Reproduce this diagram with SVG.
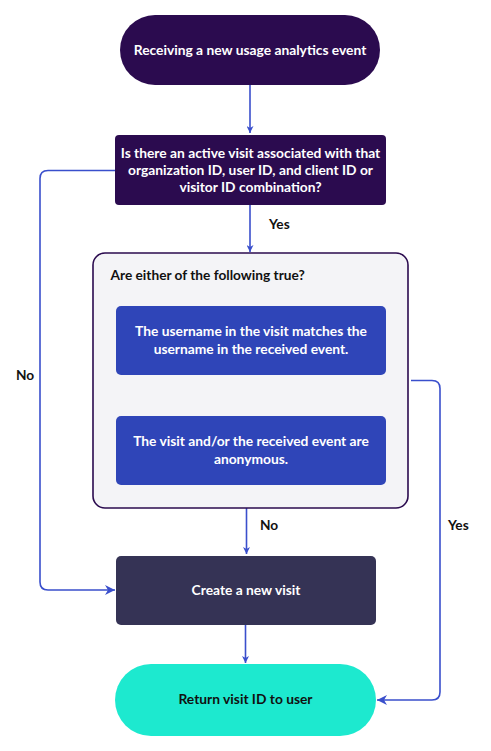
<svg xmlns="http://www.w3.org/2000/svg" width="491" height="751" viewBox="0 0 491 751">
<defs>
<style>
.t{font-family:Lato,"Open Sans","Liberation Sans",sans-serif;font-weight:700;font-size:13.8px;text-anchor:middle}
.w{fill:#ffffff}
.d{fill:#111111}
.lbl{font-family:Lato,"Open Sans","Liberation Sans",sans-serif;font-weight:700;font-size:13.7px;fill:#111111}
.c{fill:none;stroke:#3a4fcc;stroke-width:1.6}
</style>
<marker id="ah" viewBox="0 0 10 10" refX="10" refY="5" markerWidth="7" markerHeight="7" markerUnits="userSpaceOnUse" orient="auto">
<path d="M0,0 L10,5 L0,10 L3,5 Z" fill="#3a4fcc"/>
</marker>
<marker id="ah2" viewBox="0 0 10 10" refX="10" refY="5" markerWidth="10" markerHeight="10" markerUnits="userSpaceOnUse" orient="auto">
<path d="M0,0 L10,5 L0,10 L3,5 Z" fill="#3a4fcc"/>
</marker>
</defs>
<rect width="491" height="751" fill="#ffffff"/>
<g id="connectors">
<path class="c" d="M250,85 V133" marker-end="url(#ah)"/>
<path class="c" d="M250,205 V252" marker-end="url(#ah)"/>
<path class="c" d="M115,170.5 H48 Q40,170.5 40,178.5 V582 Q40,590 48,590 H115" marker-end="url(#ah2)"/>
<path class="c" d="M246.5,508 V554" marker-end="url(#ah)"/>
<path class="c" d="M245.5,625 V663" marker-end="url(#ah)"/>
<path class="c" d="M411,380.5 H432 Q440,380.5 440,388.5 V692 Q440,700 432,700 H377" marker-end="url(#ah2)"/>
<text class="lbl" x="269" y="229">Yes</text>
<text class="lbl" x="16" y="380">No</text>
<text class="lbl" x="260" y="530">No</text>
<text class="lbl" x="448" y="530">Yes</text>
</g>
<g id="start">
<rect x="120" y="15" width="260" height="70" rx="35" fill="#2b0b4f"/>
<text class="t w" x="250" y="54.5">Receiving a new usage analytics event</text>
</g>
<g id="decision">
<rect x="115" y="135" width="271" height="70" rx="4" fill="#2b0b4f"/>
<text class="t w" x="250.5" y="157.5">Is there an active visit associated with that</text>
<text class="t w" x="250.5" y="174.5">organization ID, user ID, and client ID or</text>
<text class="t w" x="250.5" y="191.5">visitor ID combination?</text>
</g>
<g id="conditions">
<rect x="93" y="253" width="315" height="255" rx="12" fill="#f4f4f7" stroke="#2b0b4f" stroke-width="1.6"/>
<text class="lbl" x="110.5" y="279.5">Are either of the following true?</text>
</g>
<g id="cond1">
<rect x="116" y="306" width="270" height="69" rx="5" fill="#2f45b8"/>
<text class="t w" x="251" y="336">The username in the visit matches the</text>
<text class="t w" x="251" y="353.5">username in the received event.</text>
</g>
<g id="cond2">
<rect x="116" y="416" width="270" height="69" rx="5" fill="#2f45b8"/>
<text class="t w" x="251" y="446">The visit and/or the received event are</text>
<text class="t w" x="251" y="463.5">anonymous.</text>
</g>
<g id="create">
<rect x="116" y="556" width="260" height="69" rx="5" fill="#353355"/>
<text class="t w" x="246" y="594.5">Create a new visit</text>
</g>
<g id="return">
<rect x="115" y="664" width="261" height="72" rx="36" fill="#1de9cf"/>
<text class="t d" x="245.5" y="704">Return visit ID to user</text>
</g>
</svg>
